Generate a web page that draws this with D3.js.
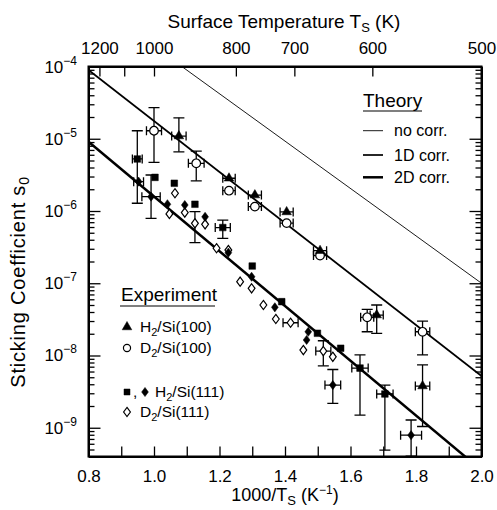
<!DOCTYPE html>
<html>
<head>
<meta charset="utf-8">
<script src="https://cdn.jsdelivr.net/npm/d3@7"></script>
<style>
  html, body { margin: 0; padding: 0; background: #fff; }
  svg { display: block; font-family: "Liberation Sans", Arial, Helvetica, sans-serif; }
</style>
</head>
<body>
<svg id="chart" width="497" height="510"></svg>
<script>
// ---- Data -------------------------------------------------------------
// x: 1000/Ts (1/K), s: sticking coefficient, xe: half width of x error,
// lo/hi: lower/upper limit of s error bar
const h2Si100 = [
  { x: 1.076, s: 1.09e-5, xe: 0.022, lo: 6.6e-6, hi: 1.95e-5 },
  { x: 1.229, s: 2.84e-6, xe: 0.019 },
  { x: 1.308, s: 1.66e-6, xe: 0.020 },
  { x: 1.405, s: 9.7e-7, xe: 0.020 },
  { x: 1.507, s: 2.82e-7, xe: 0.020 },
  { x: 1.680, s: 3.63e-8, xe: 0.020, lo: 2.03e-8, hi: 5.0e-8 },
  { x: 1.820, s: 3.78e-9, xe: 0.022, lo: 1.04e-9, hi: 7.4e-9 }
];
const d2Si100 = [
  { x: 1.000, s: 1.29e-5, xe: 0.023, lo: 4.72e-6, hi: 2.69e-5 },
  { x: 1.129, s: 4.57e-6, xe: 0.024, lo: 2.62e-6, hi: 6.76e-6 },
  { x: 1.229, s: 1.91e-6, xe: 0.019 },
  { x: 1.308, s: 1.15e-6, xe: 0.020 },
  { x: 1.405, s: 6.8e-7, xe: 0.020 },
  { x: 1.507, s: 2.42e-7, xe: 0.020 },
  { x: 1.651, s: 3.38e-8, xe: 0.020, lo: 2.13e-8, hi: 4.36e-8 },
  { x: 1.820, s: 2.13e-8, xe: 0.022, lo: 1.02e-8, hi: 3.0e-8 }
];
const h2Si111Sq = [
  { x: 0.949, s: 5.25e-6, xe: 0.015, lo: 1.28e-6, hi: 1.29e-5 },
  { x: 1.003, s: 2.92e-6 },
  { x: 1.062, s: 2.42e-6 },
  { x: 1.125, s: 1.24e-6 },
  { x: 1.210, s: 5.9e-7, xe: 0.023, lo: 4.19e-7, hi: 7.5e-7 },
  { x: 1.300, s: 1.73e-7 },
  { x: 1.390, s: 5.56e-8 },
  { x: 1.499, s: 2.03e-8 },
  { x: 1.570, s: 1.26e-8 },
  { x: 1.629, s: 6.7e-9, xe: 0.025, lo: 1.5e-9, hi: 1.02e-8 },
  { x: 1.705, s: 2.93e-9, xe: 0.025, lo: 4.9e-10, hi: 3.9e-9 }
];
const h2Si111Dia = [
  { x: 0.953, s: 2.55e-6, xe: 0.015 },
  { x: 0.991, s: 1.58e-6, xe: 0.028, lo: 7.9e-7, hi: 3.15e-6 },
  { x: 1.041, s: 1.24e-6 },
  { x: 1.094, s: 1.21e-6 },
  { x: 1.156, s: 8.3e-7 },
  { x: 1.227, s: 2.65e-7 },
  { x: 1.298, s: 1.23e-7 },
  { x: 1.369, s: 4.65e-8 },
  { x: 1.471, s: 2.13e-8 },
  { x: 1.466, s: 1.64e-8 },
  { x: 1.546, s: 3.9e-9, xe: 0.024, lo: 2.18e-9, hi: 6.4e-9 },
  { x: 1.785, s: 7.9e-10, xe: 0.032, lo: 4.05e-10, hi: 1.28e-9 }
];
const d2Si111 = [
  { x: 1.064, s: 1.76e-6 },
  { x: 1.047, s: 9.1e-7 },
  { x: 1.094, s: 9.5e-7 },
  { x: 1.125, s: 6.76e-7, lo: 3.64e-7, hi: 9.8e-7 },
  { x: 1.156, s: 6.55e-7 },
  { x: 1.191, s: 3.05e-7 },
  { x: 1.227, s: 2.88e-7 },
  { x: 1.263, s: 1.05e-7 },
  { x: 1.298, s: 8.5e-8 },
  { x: 1.334, s: 5.0e-8 },
  { x: 1.372, s: 3.2e-8 },
  { x: 1.417, s: 2.84e-8, xe: 0.023 },
  { x: 1.456, s: 1.19e-8 },
  { x: 1.517, s: 1.15e-8, xe: 0.023, lo: 7.2e-9, hi: 1.6e-8 },
  { x: 1.546, s: 9.6e-9 }
];

// Theory curves, straight lines in log(s) vs 1000/Ts
const theoryNoCorr = [[0.8, 8.6e-4], [2.0, 1.0e-7]];
const theory1D     = [[0.8, 8.95e-5], [2.0, 5.2e-9]];
const theory2D     = [[0.8, 9.1e-6], [2.0, 2.58e-10]];

// Axis ticks
const xTicks = [0.8, 0.9, 1.0, 1.1, 1.2, 1.3, 1.4, 1.5, 1.6, 1.7, 1.8, 1.9, 2.0];
const xTickLabels = [0.8, 1.0, 1.2, 1.4, 1.6, 1.8, 2.0];
const yDecades = [-9, -8, -7, -6, -5, -4];
const tempTicks = [1200, 1100, 1000, 800, 700, 600, 500];
const tempLabels = [1200, 1000, 800, 700, 600, 500];

// ---- Layout -----------------------------------------------------------
const L = 88.5, R = 481.5, T = 66.5, B = 456.5;
const svg = d3.select("#chart");
const x = d3.scaleLinear().domain([0.8, 2.0]).range([L, R]);
const y = d3.scaleLog().domain([4e-10, 1e-4]).range([B, T]);

svg.append("defs").append("clipPath").attr("id", "plotclip")
  .append("rect").attr("x", L).attr("y", T).attr("width", R - L).attr("height", B - T);

// minor log ticks (2..9 x 10^n) inside the domain
const minorY = [];
for (let e = -10; e <= -5; e++) for (let m = 2; m <= 9; m++) {
  const v = m * Math.pow(10, e);
  if (v >= 4e-10 && v <= 1e-4) minorY.push(v);
}
const majorY = yDecades.map(e => Math.pow(10, e));

// bottom axis
const gB = svg.append("g").attr("transform", `translate(0,${B})`)
  .call(d3.axisBottom(x).tickValues(xTicks).tickSizeInner(-10).tickSizeOuter(0)
    .tickFormat(d => xTickLabels.some(v => Math.abs(v - d) < 1e-9) ? d3.format(".1f")(d) : ""));
gB.selectAll("text").attr("y", 25).attr("dy", null).style("font-size", "17px");

// top temperature axis
const gT = svg.append("g").attr("transform", `translate(0,${T})`)
  .call(d3.axisTop(x).tickValues(tempTicks.map(t => 1000 / t)).tickSizeInner(-10).tickSizeOuter(0)
    .tickFormat(d => { const t = Math.round(1000 / d); return tempLabels.includes(t) ? String(t) : ""; }));
gT.selectAll("text").attr("y", -13).attr("dy", null).style("font-size", "17px");

// left axis: decades labelled, minor ticks
const gL = svg.append("g").attr("transform", `translate(${L},0)`)
  .call(d3.axisLeft(y).tickValues(majorY).tickSizeInner(-12).tickSizeOuter(0).tickFormat(""));
gL.append("g").call(d3.axisLeft(y).tickValues(minorY).tickSizeInner(-6).tickSizeOuter(0).tickFormat(""))
  .select(".domain").remove();
// right axis
const gR = svg.append("g").attr("transform", `translate(${R},0)`)
  .call(d3.axisRight(y).tickValues(majorY).tickSizeInner(-12).tickSizeOuter(0).tickFormat(""));
gR.append("g").call(d3.axisRight(y).tickValues(minorY).tickSizeInner(-6).tickSizeOuter(0).tickFormat(""))
  .select(".domain").remove();

svg.selectAll(".tick line").attr("stroke", "#000").attr("stroke-width", 1.3);
svg.selectAll(".domain").attr("stroke", "#000").attr("stroke-width", 2);
svg.selectAll(".tick text").attr("fill", "#000").style("font-family", "'Liberation Sans', Arial, sans-serif");

// decade labels 10^n
const yl = svg.append("g");
[-4, -5, -6, -7, -8, -9].forEach(e => {
  const t = yl.append("text").attr("x", 77).attr("y", y(Math.pow(10, e)) + 6)
    .attr("text-anchor", "end").style("font-size", "17px");
  t.append("tspan").text("10");
  t.append("tspan").attr("dy", -8).style("font-size", "12px").text("\u2212" + (-e));
});

// frame
svg.append("rect").attr("x", L).attr("y", T).attr("width", R - L).attr("height", B - T)
  .attr("fill", "none").attr("stroke", "#000").attr("stroke-width", 2);

// ---- Theory lines ---------------------------------------------------------
const line = d3.line().x(d => x(d[0])).y(d => y(d[1]));
const plot = svg.append("g").attr("clip-path", "url(#plotclip)");
plot.append("path").datum(theoryNoCorr).attr("d", line).attr("fill", "none").attr("stroke", "#000").attr("stroke-width", 0.9);
plot.append("path").datum(theory1D).attr("d", line).attr("fill", "none").attr("stroke", "#000").attr("stroke-width", 1.7);
plot.append("path").datum(theory2D).attr("d", line).attr("fill", "none").attr("stroke", "#000").attr("stroke-width", 2.5);

// ---- Error bars ---------------------------------------------------------
function errorBars(data) {
  const g = plot.append("g").attr("stroke", "#000").attr("stroke-width", 1.3).attr("fill", "none");
  data.forEach(d => {
    const cx = x(d.x), cy = y(d.s);
    if (d.xe) {
      const x0 = x(d.x - d.xe), x1 = x(d.x + d.xe);
      g.append("line").attr("x1", x0).attr("x2", x1).attr("y1", cy).attr("y2", cy);
      g.append("line").attr("x1", x0).attr("x2", x0).attr("y1", cy - 4.5).attr("y2", cy + 4.5);
      g.append("line").attr("x1", x1).attr("x2", x1).attr("y1", cy - 4.5).attr("y2", cy + 4.5);
    }
    if (d.lo) {
      const y0 = y(d.hi), y1 = y(d.lo);
      g.append("line").attr("x1", cx).attr("x2", cx).attr("y1", y0).attr("y2", y1);
      g.append("line").attr("x1", cx - 5.5).attr("x2", cx + 5.5).attr("y1", y0).attr("y2", y0);
      g.append("line").attr("x1", cx - 5.5).attr("x2", cx + 5.5).attr("y1", y1).attr("y2", y1);
    }
  });
}
[h2Si100, d2Si100, h2Si111Sq, h2Si111Dia, d2Si111].forEach(errorBars);

// ---- Markers ------------------------------------------------------------
const sym = {
  tri: d3.symbol().type(d3.symbolTriangle).size(40),
  circ: d3.symbol().type(d3.symbolCircle).size(58),
  sq: d3.symbol().type(d3.symbolSquare).size(44),
  dia: "M0,-4.6L3.4,0L0,4.6L-3.4,0Z"
};
function markers(data, shape, filled, g = plot) {
  g.append("g").selectAll("path").data(data).join("path")
    .attr("transform", d => `translate(${x(d.x)},${y(d.s)})`)
    .attr("d", typeof shape === "string" ? shape : shape())
    .attr("fill", filled ? "#000" : "#fff")
    .attr("stroke", "#000").attr("stroke-width", filled ? 0.5 : 1.2);
}
markers(d2Si111, sym.dia, false);
markers(h2Si111Dia, sym.dia, true);
markers(h2Si111Sq, sym.sq, true);
markers(d2Si100, sym.circ, false);
markers(h2Si100, sym.tri, true);

// ---- Legends ------------------------------------------------------------
const leg = svg.append("g").style("fill", "#000");
leg.append("text").attr("x", 363).attr("y", 107).style("font-size", "19px").text("Theory");
leg.append("line").attr("x1", 363).attr("x2", 422).attr("y1", 111).attr("y2", 111).attr("stroke", "#000").attr("stroke-width", 1.2);
[["no corr.", 0.9, 130.7], ["1D corr.", 1.7, 155], ["2D corr.", 2.5, 177.3]].forEach(([lab, w, yy]) => {
  leg.append("line").attr("x1", 363).attr("x2", 383).attr("y1", yy).attr("y2", yy).attr("stroke", "#000").attr("stroke-width", w);
  leg.append("text").attr("x", 394).attr("y", yy + 5.5).style("font-size", "16px").text(lab);
});

leg.append("text").attr("x", 121).attr("y", 301).style("font-size", "19px").text("Experiment");
leg.append("line").attr("x1", 120).attr("x2", 215).attr("y1", 306).attr("y2", 306).attr("stroke", "#000").attr("stroke-width", 1.2);

function legSym(px, py, shape, filled) {
  leg.append("path").attr("transform", `translate(${px},${py})`)
    .attr("d", typeof shape === "string" ? shape : shape())
    .attr("fill", filled ? "#000" : "#fff").attr("stroke", "#000").attr("stroke-width", filled ? 0.5 : 1.2);
}
function legText(px, py, gas, rest) {
  const t = leg.append("text").attr("x", px).attr("y", py).style("font-size", "15.5px");
  t.append("tspan").text(gas);
  t.append("tspan").attr("dy", 4).style("font-size", "11px").text("2");
  t.append("tspan").attr("dy", -4).text(rest);
}
legSym(127, 327, sym.tri, true);  legText(140, 332, "H", "/Si(100)");
legSym(127, 348, d3.symbol().type(d3.symbolCircle).size(40), false); legText(140, 353, "D", "/Si(100)");
legSym(127, 392, d3.symbol().type(d3.symbolSquare).size(36), true);
leg.append("text").attr("x", 133).attr("y", 397).style("font-size", "15.5px").text(",");
legSym(145, 392, sym.dia, true); legText(155, 397, "H", "/Si(111)");
legSym(127, 412, sym.dia, false); legText(140, 417, "D", "/Si(111)");

// ---- Axis titles ---------------------------------------------------------
const tt = svg.append("text").attr("x", 284).attr("y", 28).attr("text-anchor", "middle").style("font-size", "19px");
tt.append("tspan").text("Surface Temperature T");
tt.append("tspan").attr("dy", 4).style("font-size", "13px").text("S");
tt.append("tspan").attr("dy", -4).text(" (K)");

const xt = svg.append("text").attr("x", 285).attr("y", 501).attr("text-anchor", "middle").style("font-size", "18px");
xt.append("tspan").text("1000/T");
xt.append("tspan").attr("dy", 4).style("font-size", "13px").text("S");
xt.append("tspan").attr("dy", -4).text(" (K");
xt.append("tspan").attr("dy", -7).style("font-size", "12px").text("\u22121");
xt.append("tspan").attr("dy", 7).text(")");

const yt = svg.append("text").attr("transform", "translate(25,282) rotate(-90)").attr("text-anchor", "middle")
  .style("font-size", "20px").style("letter-spacing", "0.8px");
yt.append("tspan").text("Sticking Coefficient s");
yt.append("tspan").attr("dy", 4).style("font-size", "14px").text("0");
</script>
</body>
</html>
